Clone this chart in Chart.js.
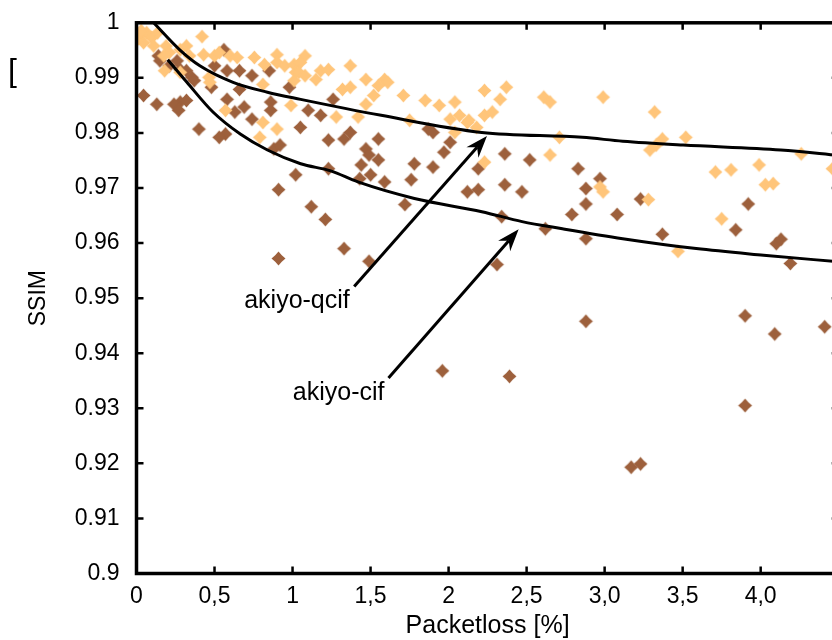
<!DOCTYPE html>
<html>
<head>
<meta charset="utf-8">
<script src="https://cdn.jsdelivr.net/npm/chart.js@4/dist/chart.umd.min.js"></script>
<style>
  body { margin: 0; background: #fff; }
  #wrap { width: 832px; height: 640px; overflow: hidden; position: relative; }
</style>
</head>
<body>
<div id="wrap">
  <canvas id="myChart" width="845" height="640"></canvas>
</div>
<script>
// axis ticks
const xTicks = [0, 0.5, 1, 1.5, 2, 2.5, 3, 3.5, 4];
const xTickLabels = ["0", "0,5", "1", "1,5", "2", "2,5", "3,0", "3,5", "4,0"];
const yTicks = [0.9, 0.91, 0.92, 0.93, 0.94, 0.95, 0.96, 0.97, 0.98, 0.99, 1];
const yTickLabels = ["0.9", "0.91", "0.92", "0.93", "0.94", "0.95", "0.96", "0.97", "0.98", "0.99", "1"];

// akiyo-qcif measurements [packetloss %, ssim]
const qcifPoints = [
  [0.02, 0.9977], [0.065, 0.9982], [0.097, 0.9973], [0.045, 0.9964], [0.11, 0.9958],
  [0.0, 0.9968], [0.03, 0.9986], [0.135, 0.9982], [0.42, 0.9975], [0.19, 0.9958],
  [0.21, 0.9946], [0.175, 0.994], [0.28, 0.9951], [0.32, 0.9958], [0.34, 0.994],
  [0.43, 0.9942], [0.5, 0.994], [0.53, 0.9946], [0.6, 0.994], [0.645, 0.9937],
  [0.755, 0.9937], [0.82, 0.9924], [0.9, 0.9942], [0.9, 0.9928], [0.95, 0.9922],
  [1.01, 0.9924], [1.02, 0.991], [0.18, 0.9913], [0.28, 0.991], [0.465, 0.9901],
  [0.47, 0.9892], [0.81, 0.9888], [1.01, 0.9895], [0.57, 0.9841], [0.99, 0.985],
  [0.81, 0.9819], [0.9, 0.9807], [0.79, 0.9792], [1.08, 0.994], [1.05, 0.9928],
  [1.04, 0.991], [1.08, 0.9904], [1.15, 0.9897], [1.18, 0.9913], [1.23, 0.9915],
  [1.37, 0.9922], [1.47, 0.9897], [1.59, 0.9897], [1.61, 0.9892], [1.55, 0.9886],
  [1.32, 0.9879], [1.37, 0.9883], [1.52, 0.9868], [1.47, 0.9852], [1.71, 0.9868],
  [1.85, 0.9859], [1.94, 0.985], [2.04, 0.9856], [2.07, 0.9832], [2.01, 0.9825],
  [2.12, 0.9819], [1.75, 0.9823], [1.42, 0.9829], [1.28, 0.9829], [2.04, 0.9801],
  [2.23, 0.9877], [2.37, 0.9883], [2.33, 0.9861], [2.61, 0.9865], [2.65, 0.9856],
  [2.99, 0.9865], [3.32, 0.9838], [2.13, 0.9823], [2.23, 0.9832], [2.28, 0.9838],
  [2.18, 0.981], [2.71, 0.9792], [2.65, 0.976], [2.23, 0.9747], [3.29, 0.9769],
  [3.33, 0.9778], [2.97, 0.9702], [2.99, 0.9693], [3.28, 0.9679], [3.37, 0.9789],
  [3.52, 0.9792], [3.71, 0.9729], [3.81, 0.9733], [3.99, 0.9742], [4.03, 0.9706],
  [4.08, 0.9708], [3.75, 0.9644], [3.47, 0.9585], [4.26, 0.9762], [4.46, 0.9735]
];

// akiyo-cif measurements [packetloss %, ssim]
const cifPoints = [
  [0.14, 0.994], [0.15, 0.9931], [0.21, 0.9922], [0.26, 0.9931], [0.28, 0.9915],
  [0.32, 0.9913], [0.355, 0.9901], [0.37, 0.9895], [0.5, 0.9922], [0.56, 0.9951],
  [0.58, 0.9913], [0.66, 0.9913], [0.74, 0.9904], [0.85, 0.9913], [0.98, 0.9883],
  [0.66, 0.9879], [0.48, 0.9883], [0.58, 0.9861], [0.63, 0.9838], [0.69, 0.9847],
  [0.86, 0.9856], [0.86, 0.9841], [0.74, 0.9825], [0.57, 0.9798], [0.53, 0.9792],
  [0.4, 0.9807], [0.28, 0.9856], [0.24, 0.9852], [0.27, 0.9841], [0.32, 0.9859],
  [0.13, 0.9852], [0.045, 0.9868], [0.88, 0.9771], [0.92, 0.9778], [1.05, 0.981],
  [1.26, 0.9861], [1.1, 0.9841], [1.18, 0.9832], [1.23, 0.9787], [1.33, 0.9789],
  [1.37, 0.9801], [1.55, 0.9789], [1.47, 0.9771], [1.49, 0.976], [1.55, 0.9751],
  [1.44, 0.9742], [1.5, 0.9724], [1.43, 0.9717], [1.59, 0.9711], [1.23, 0.9735],
  [1.78, 0.9744], [1.9, 0.9738], [1.76, 0.9715], [1.97, 0.9765], [2.01, 0.9783],
  [1.87, 0.9807], [1.9, 0.9801], [2.12, 0.9693], [1.02, 0.9724], [0.91, 0.9697],
  [1.12, 0.9666], [1.21, 0.9643], [1.33, 0.959], [0.91, 0.9572], [1.49, 0.9567],
  [1.72, 0.967], [2.19, 0.9697], [2.36, 0.9706], [2.47, 0.9693], [2.34, 0.9648],
  [2.31, 0.9561], [2.19, 0.9735], [2.36, 0.9762], [2.52, 0.9751], [1.96, 0.9368],
  [2.39, 0.9358], [2.88, 0.9458], [3.17, 0.9193], [3.23, 0.9199], [3.9, 0.9305],
  [3.9, 0.9468], [4.09, 0.9435], [4.41, 0.9448], [4.19, 0.9563], [4.1, 0.9599],
  [4.13, 0.9607], [3.84, 0.9624], [3.37, 0.9616], [3.92, 0.9671], [2.88, 0.9699],
  [2.88, 0.9671], [2.79, 0.9652], [3.08, 0.9652], [3.23, 0.968], [2.88, 0.9608],
  [2.83, 0.9735], [2.97, 0.9717], [2.62, 0.9626]
];

// fitted trend curves
const qcifFit = [
  [0.11, 1.0], [0.277, 0.9951], [0.406, 0.9922], [0.619, 0.9892], [0.839, 0.9874],
  [1.052, 0.9861], [1.568, 0.9832], [2.213, 0.9801], [2.858, 0.9792], [3.116, 0.9785],
  [3.503, 0.9778], [4.129, 0.9769], [4.5, 0.9759]
];
const cifFit = [
  [0.2, 0.9933], [0.323, 0.9892], [0.49, 0.9838], [0.665, 0.9798], [0.839, 0.9769],
  [1.052, 0.9744], [1.245, 0.9731], [1.419, 0.9711], [1.781, 0.9681], [2.213, 0.9657],
  [2.471, 0.9639], [2.729, 0.9626], [3.116, 0.9608], [3.587, 0.959], [4.019, 0.9578],
  [4.5, 0.9566]
];

const qcifColor = "rgb(255, 197, 122)";
const cifColor = "rgb(157, 96, 60)";

function toXY(arr) {
  return arr.map((p) => ({ x: p[0], y: p[1] }));
}

// four-pointed marker like the matlab plot
function makeMarker(color) {
  const c = document.createElement("canvas");
  c.width = 17;
  c.height = 17;
  const g = c.getContext("2d");
  const m = 8.5, r = 7, k = 3.3;
  g.fillStyle = color;
  g.beginPath();
  g.moveTo(m, m - r);
  g.lineTo(m + k, m - k);
  g.lineTo(m + r, m);
  g.lineTo(m + k, m + k);
  g.lineTo(m, m + r);
  g.lineTo(m - k, m + k);
  g.lineTo(m - r, m);
  g.lineTo(m - k, m - k);
  g.closePath();
  g.fill();
  return c;
}

const fontFamily = "'Liberation Sans', Arial, sans-serif";

function drawArrow(ctx, x1, y1, x2, y2) {
  const ang = Math.atan2(y2 - y1, x2 - x1);
  const len = 22, half = 8, back = 15;
  const bx = x2 - Math.cos(ang) * back;
  const by = y2 - Math.sin(ang) * back;
  ctx.beginPath();
  ctx.moveTo(x1, y1);
  ctx.lineTo(bx, by);
  ctx.stroke();
  const px = -Math.sin(ang), py = Math.cos(ang);
  const cx = x2 - Math.cos(ang) * len;
  const cy = y2 - Math.sin(ang) * len;
  ctx.beginPath();
  ctx.moveTo(x2, y2);
  ctx.lineTo(cx + px * half, cy + py * half);
  ctx.lineTo(bx, by);
  ctx.lineTo(cx - px * half, cy - py * half);
  ctx.closePath();
  ctx.fill();
}

const framePlugin = {
  id: "frame",
  afterDraw(chart) {
    const ctx = chart.ctx;
    const { left, right, top, bottom } = chart.chartArea;
    const xs = chart.scales.x;
    const ys = chart.scales.y;
    ctx.save();
    ctx.strokeStyle = "#000";
    ctx.fillStyle = "#000";

    // annotations
    ctx.lineWidth = 3;
    drawArrow(ctx, xs.getPixelForValue(1.395), ys.getPixelForValue(0.9521),
      xs.getPixelForValue(2.246), ys.getPixelForValue(0.97946));
    drawArrow(ctx, xs.getPixelForValue(1.615), ys.getPixelForValue(0.93552),
      xs.getPixelForValue(2.449), ys.getPixelForValue(0.96249));
    ctx.font = "25px " + fontFamily;
    ctx.textBaseline = "middle";
    ctx.textAlign = "left";
    ctx.fillText("akiyo-qcif", xs.getPixelForValue(0.69), ys.getPixelForValue(0.9494));
    ctx.fillText("akiyo-cif", xs.getPixelForValue(1.002), ys.getPixelForValue(0.9328));

    // box
    ctx.lineWidth = 3.5;
    ctx.strokeRect(left, top, right - left, bottom - top);

    // inward ticks
    ctx.lineWidth = 2.5;
    ctx.beginPath();
    xTicks.forEach((v) => {
      const x = xs.getPixelForValue(v);
      ctx.moveTo(x, bottom);
      ctx.lineTo(x, bottom - 7);
      ctx.moveTo(x, top);
      ctx.lineTo(x, top + 7);
    });
    yTicks.forEach((v) => {
      const y = ys.getPixelForValue(v);
      ctx.moveTo(left, y);
      ctx.lineTo(left + 7, y);
      ctx.moveTo(right, y);
      ctx.lineTo(right - 7, y);
    });
    ctx.stroke();

    // leftover bracket at top left
    ctx.font = "32px " + fontFamily;
    ctx.fillText("[", 8, 72);
    ctx.restore();
  }
};

const ctx = document.getElementById("myChart");

new Chart(ctx, {
  type: "scatter",
  data: {
    datasets: [
      {
        type: "line",
        label: "akiyo-qcif fit",
        data: toXY(qcifFit),
        borderColor: "#000",
        borderWidth: 3,
        pointRadius: 0,
        cubicInterpolationMode: "monotone",
        fill: false,
        order: 0
      },
      {
        type: "line",
        label: "akiyo-cif fit",
        data: toXY(cifFit),
        borderColor: "#000",
        borderWidth: 3,
        pointRadius: 0,
        cubicInterpolationMode: "monotone",
        fill: false,
        order: 0
      },
      {
        label: "akiyo-qcif",
        data: toXY(qcifPoints),
        pointStyle: makeMarker(qcifColor),
        backgroundColor: qcifColor,
        order: 1
      },
      {
        label: "akiyo-cif",
        data: toXY(cifPoints),
        pointStyle: makeMarker(cifColor),
        backgroundColor: cifColor,
        order: 2
      }
    ]
  },
  options: {
    responsive: false,
    animation: false,
    devicePixelRatio: 1,
    layout: { padding: { left: 0, top: 19.5, right: 6.3, bottom: 0 } },
    plugins: {
      legend: { display: false },
      tooltip: { enabled: false }
    },
    scales: {
      x: {
        type: "linear",
        min: 0,
        max: 4.5,
        grid: { display: false },
        border: { display: false },
        afterBuildTicks: (scale) => {
          scale.ticks = xTicks.map((v) => ({ value: v }));
        },
        afterFit: (scale) => {
          scale.height = 66.5;
        },
        ticks: {
          padding: 1,
          maxRotation: 0,
          color: "#000",
          font: { family: fontFamily, size: 23 },
          callback: (v, i) => xTickLabels[i]
        },
        title: {
          display: true,
          text: "Packetloss [%]",
          color: "#000",
          font: { family: fontFamily, size: 25, lineHeight: 1 },
          padding: { top: 0, bottom: 1 }
        }
      },
      y: {
        type: "linear",
        min: 0.9,
        max: 1,
        grid: { display: false },
        border: { display: false },
        afterBuildTicks: (scale) => {
          scale.ticks = yTicks.map((v) => ({ value: v }));
        },
        afterFit: (scale) => {
          scale.width = 136.5;
        },
        ticks: {
          padding: 9,
          color: "#000",
          font: { family: fontFamily, size: 23 },
          callback: (v, i) => yTickLabels[i]
        },
        title: {
          display: true,
          text: "SSIM",
          color: "#000",
          font: { family: fontFamily, size: 23, lineHeight: 1 },
          padding: { top: 27, bottom: 0 }
        }
      }
    }
  },
  plugins: [framePlugin]
});
</script>
</body>
</html>
